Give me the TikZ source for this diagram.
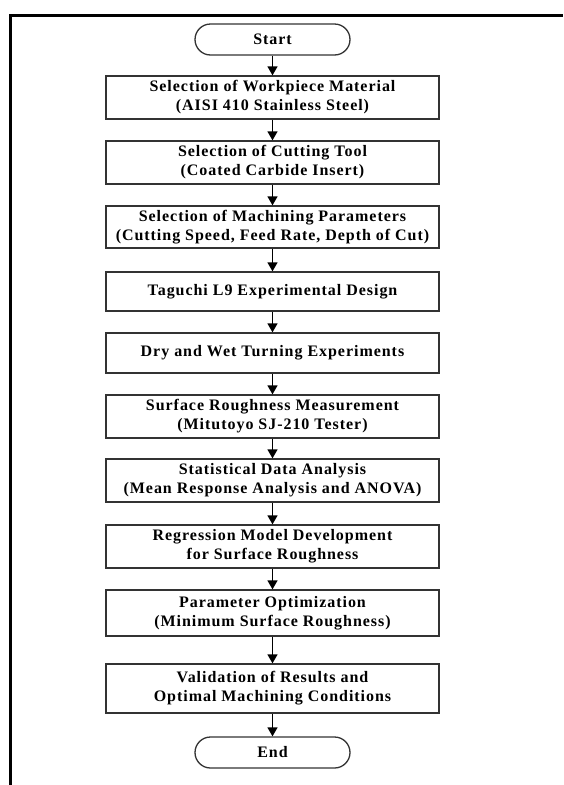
\documentclass[tikz,border=0pt]{standalone}
\usepackage{fontspec}
\setmainfont{Liberation Serif}[LetterSpace=6]
\usetikzlibrary{arrows.meta}
\tikzset{
  box/.style={draw=black!80, line width=1.3pt, fill=white, minimum width=333pt,
    align=center, inner sep=0pt, font=\bfseries\fontsize{16}{19}\selectfont},
  term/.style={box, minimum width=155pt, minimum height=31pt, rounded corners=15.5pt},
}
\begin{document}
\begin{tikzpicture}[x=1pt, y=-1pt]
      \useasboundingbox (0,0) rectangle (563,785);
      \draw[line width=2.4pt] (10.5,785) -- (10.5,15.5) -- (563,15.5);
      \draw
        (272.5,39.5) node[term] (0){Start}
        (272.5,97.5) node[box, minimum height=43pt] (1){Selection of Workpiece Material\\(AISI 410 Stainless Steel)}
        (272.5,162.5) node[box, minimum height=43pt] (2){Selection of Cutting Tool\\(Coated Carbide Insert)}
        (272.5,227) node[box, minimum height=42pt] (3){Selection of Machining Parameters\\(Cutting Speed, Feed Rate, Depth of Cut)}
        (272.5,291.5) node[box, minimum height=39pt] (4){Taguchi L9 Experimental Design}
        (272.5,353) node[box, minimum height=40pt] (5){Dry and Wet Turning Experiments}
        (272.5,416.5) node[box, minimum height=43pt] (6){Surface Roughness Measurement\\(Mitutoyo SJ-210 Tester)}
        (272.5,480.5) node[box, minimum height=43pt] (7){Statistical Data Analysis\\(Mean Response Analysis and ANOVA)}
        (272.5,546.5) node[box, minimum height=43pt] (8){Regression Model Development\\for Surface Roughness}
        (272.5,613) node[box, minimum height=46pt] (9){Parameter Optimization\\(Minimum Surface Roughness)}
        (272.5,688.5) node[box, minimum height=49pt] (10){Validation of Results and\\Optimal Machining Conditions}
        (272.5,752.5) node[term] (11){End};
      \begin{scope}[line width=1.3pt, -{Triangle[length=9pt, width=10pt]}]
        \draw (0) to (1);
        \draw (1) to (2);
        \draw (2) to (3);
        \draw (3) to (4);
        \draw (4) to (5);
        \draw (5) to (6);
        \draw (6) to (7);
        \draw (7) to (8);
        \draw (8) to (9);
        \draw (9) to (10);
        \draw (10) to (11);
      \end{scope}
    \end{tikzpicture}
\end{document}
